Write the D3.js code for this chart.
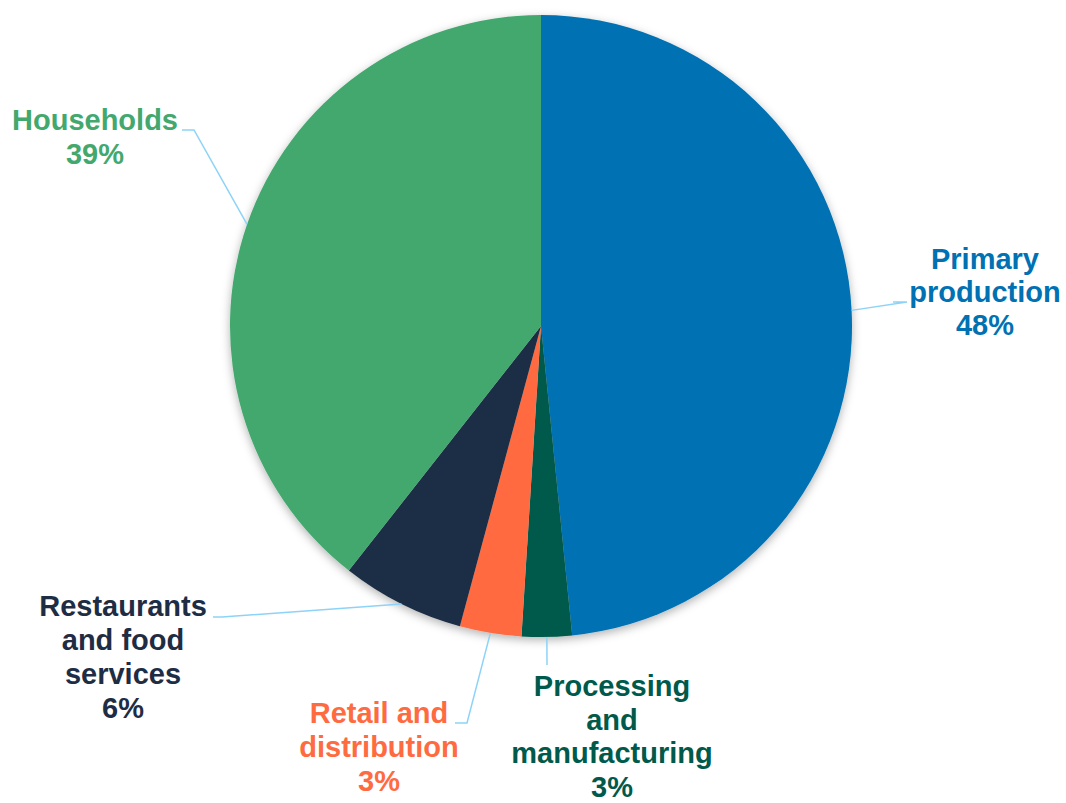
<!DOCTYPE html>
<html>
<head>
<meta charset="utf-8">
<script src="https://cdn.jsdelivr.net/npm/d3@7"></script>
<style>
  body { margin: 0; background: #fff; }
  text { font-family: "Liberation Sans", Arial, sans-serif; font-weight: bold; }
</style>
</head>
<body>
<div id="chart"></div>
<script>
// data (share of food waste by stage, %)
const categories = ["Primary production", "Processing and manufacturing", "Retail and distribution",
                    "Restaurants and food services", "Households"];
const shares = [48.4, 2.6, 3.2, 6.4, 39.4];
const labelLines = [
  ["Primary", "production"],
  ["Processing", "and", "manufacturing"],
  ["Retail and", "distribution"],
  ["Restaurants", "and food", "services"],
  ["Households"]
];
const colors = ["#0071B3", "#005A4B", "#FF6B40", "#1E2D44", "#43A86E"];

// label placement: text centre x, first baseline y, line step, leader elbow points
const labelPos = [
  { x: 985, y: 269, step: 33, elbow: [[907, 302], [893, 302]] },
  { x: 612, y: 696, step: 33.6, elbow: [[547, 665]] },
  { x: 379, y: 723, step: 34, elbow: [[467, 723], [455, 723]] },
  { x: 123, y: 616, step: 34, elbow: [[222, 617], [213, 617]] },
  { x: 95,  y: 130, step: 34, elbow: [[194, 130], [182, 130]] }
];

const svgWidth = 1066, svgHeight = 803;
const cx = 541, cy = 326, radius = 311;

let svg = d3.select("#chart").append("svg")
            .attr("width", svgWidth)
            .attr("height", svgHeight);

let defs = svg.append("defs");
let shadow = defs.append("filter").attr("id", "shadow")
                 .attr("x", "-10%").attr("y", "-10%")
                 .attr("width", "120%").attr("height", "120%");
shadow.append("feDropShadow")
      .attr("dx", 0).attr("dy", 3)
      .attr("stdDeviation", 5)
      .attr("flood-color", "#000")
      .attr("flood-opacity", 0.3);

let pieGroup = svg.append("g")
                  .attr("transform", `translate(${cx},${cy})`);

let pie = d3.pie().sort(null).value(d => d);
let arcs = pie(shares);
let arc = d3.arc().innerRadius(0).outerRadius(radius);

pieGroup.append("g")
        .attr("filter", "url(#shadow)")
        .selectAll("path")
        .data(arcs)
        .enter()
          .append("path")
          .attr("d", arc)
          .attr("fill", (d, i) => colors[i]);

// leader lines
arcs.forEach(function(d, i) {
  let mid = (d.startAngle + d.endAngle) / 2;
  let start = [cx + radius * Math.sin(mid), cy - radius * Math.cos(mid)];
  let pts = [start].concat(labelPos[i].elbow);
  svg.append("path")
     .attr("d", d3.line()(pts))
     .attr("fill", "none")
     .attr("stroke", "#8DD3F8")
     .attr("stroke-width", 1.5);
});

// labels
arcs.forEach(function(d, i) {
  let lines = labelLines[i].concat([Math.round(shares[i]) + "%"]);
  let t = svg.append("text")
             .attr("text-anchor", "middle")
             .attr("font-size", "29px")
             .attr("fill", colors[i]);
  lines.forEach(function(line, j) {
    t.append("tspan")
     .attr("x", labelPos[i].x)
     .attr("y", labelPos[i].y + j * labelPos[i].step)
     .text(line);
  });
});
</script>
</body>
</html>
